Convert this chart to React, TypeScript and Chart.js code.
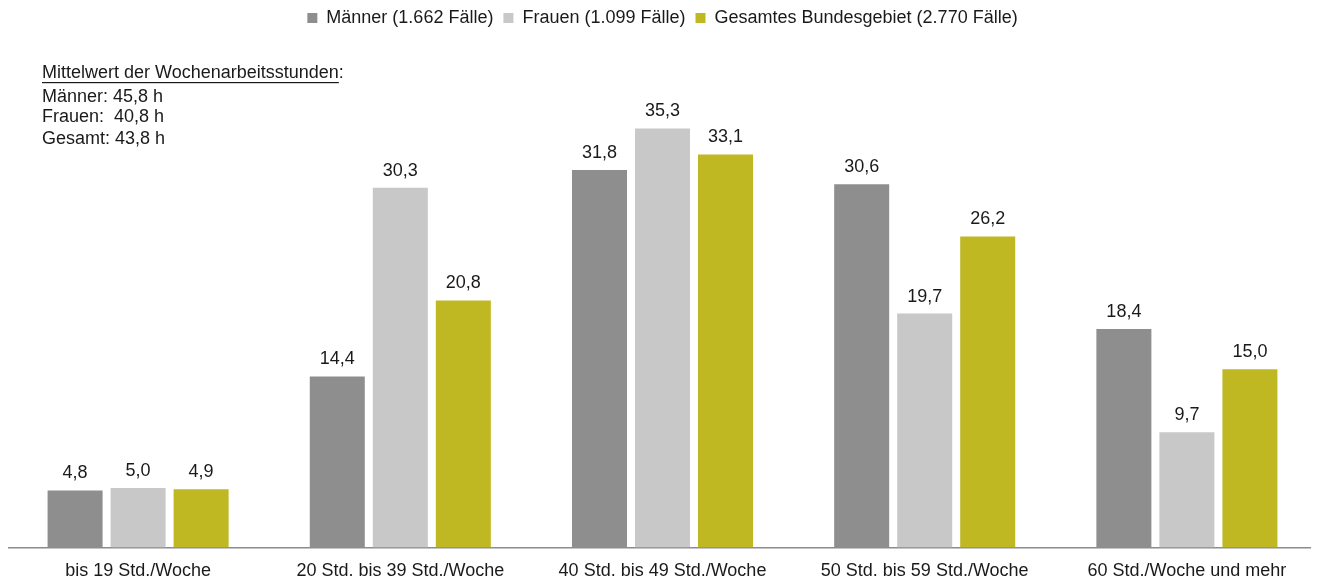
import React, { useEffect, useRef } from "react";
import { Chart, registerables } from "chart.js";

Chart.register(...registerables);

const categories = [
  "bis 19 Std./Woche",
  "20 Std. bis 39 Std./Woche",
  "40 Std. bis 49 Std./Woche",
  "50 Std. bis 59 Std./Woche",
  "60 Std./Woche und mehr",
];
const seriesNames = [
  "Männer (1.662 Fälle)",
  "Frauen (1.099 Fälle)",
  "Gesamtes Bundesgebiet (2.770 Fälle)",
];
const maenner = [4.8, 14.4, 31.8, 30.6, 18.4];
const frauen = [5.0, 30.3, 35.3, 19.7, 9.7];
const gesamt = [4.9, 20.8, 33.1, 26.2, 15.0];
const noteTitle = "Mittelwert der Wochenarbeitsstunden";
const noteLines = ["Männer: 45,8 h", "Frauen:  40,8 h", "Gesamt: 43,8 h"];

const FONT = "'Liberation Sans', Arial, sans-serif";

const labelPlugin = {
  id: "valueLabels",
  afterDatasetsDraw(chart: any) {
    const ctx = chart.ctx;
    ctx.save();
    ctx.font = `18px ${FONT}`;
    ctx.fillStyle = "#1a1a1a";
    ctx.textAlign = "center";
    ctx.textBaseline = "middle";
    chart.data.datasets.forEach((ds: any, i: number) => {
      const meta = chart.getDatasetMeta(i);
      meta.data.forEach((bar: any, j: number) => {
        const v = ds.data[j] as number;
        ctx.fillText(v.toFixed(1).replace(".", ","), bar.x, bar.y - 17);
      });
    });
    // annotation
    ctx.textAlign = "left";
    ctx.textBaseline = "middle";
    const x0 = 35;
    const y = 65;
    ctx.fillText(noteTitle + ":", x0, y);
    const w = ctx.measureText(noteTitle).width;
    ctx.fillRect(x0, y + 9, w, 1.2);
    const ys = [89, 109, 131];
    noteLines.forEach((t, k) => {
      ctx.fillText(t, x0, ys[k]);
    });
    ctx.restore();
  },
};

export default function App() {
  const ref = useRef<HTMLCanvasElement | null>(null);
  useEffect(() => {
    if (!ref.current) return;
    const chart = new Chart(ref.current, {
      type: "bar",
      data: {
        labels: categories,
        datasets: [
          { label: seriesNames[0], data: maenner, backgroundColor: "#8e8e8e" },
          { label: seriesNames[1], data: frauen, backgroundColor: "#c8c8c8" },
          { label: seriesNames[2], data: gesamt, backgroundColor: "#bfb823" },
        ],
      },
      options: {
        animation: false,
        responsive: true,
        maintainAspectRatio: false,
        layout: { padding: { top: -9, left: 0, right: 0, bottom: -16 } },
        datasets: {
          bar: { categoryPercentage: 0.721, barPercentage: 0.873 },
        },
        plugins: {
          legend: {
            position: "top",
            labels: {
              boxWidth: 10,
              boxHeight: 10,
              padding: 10,
              color: "#1a1a1a",
              font: { family: FONT, size: 18 },
            },
          },
          tooltip: { enabled: false },
        },
        scales: {
          x: {
            grid: { display: false, drawTicks: false },
            border: { display: true, color: "#8c8c8c", width: 1.5 },
            ticks: {
              color: "#1a1a1a",
              padding: 13,
              maxRotation: 0,
              font: { family: FONT, size: 18 },
            },
          },
          y: {
            display: false,
            min: 0,
            max: 43,
          },
        },
      },
      plugins: [labelPlugin],
    });
    return () => chart.destroy();
  }, []);
  return (
    <div style={{ width: 1311, height: 571, marginLeft: -1, position: "relative" }}>
      <canvas ref={ref} />
    </div>
  );
}
